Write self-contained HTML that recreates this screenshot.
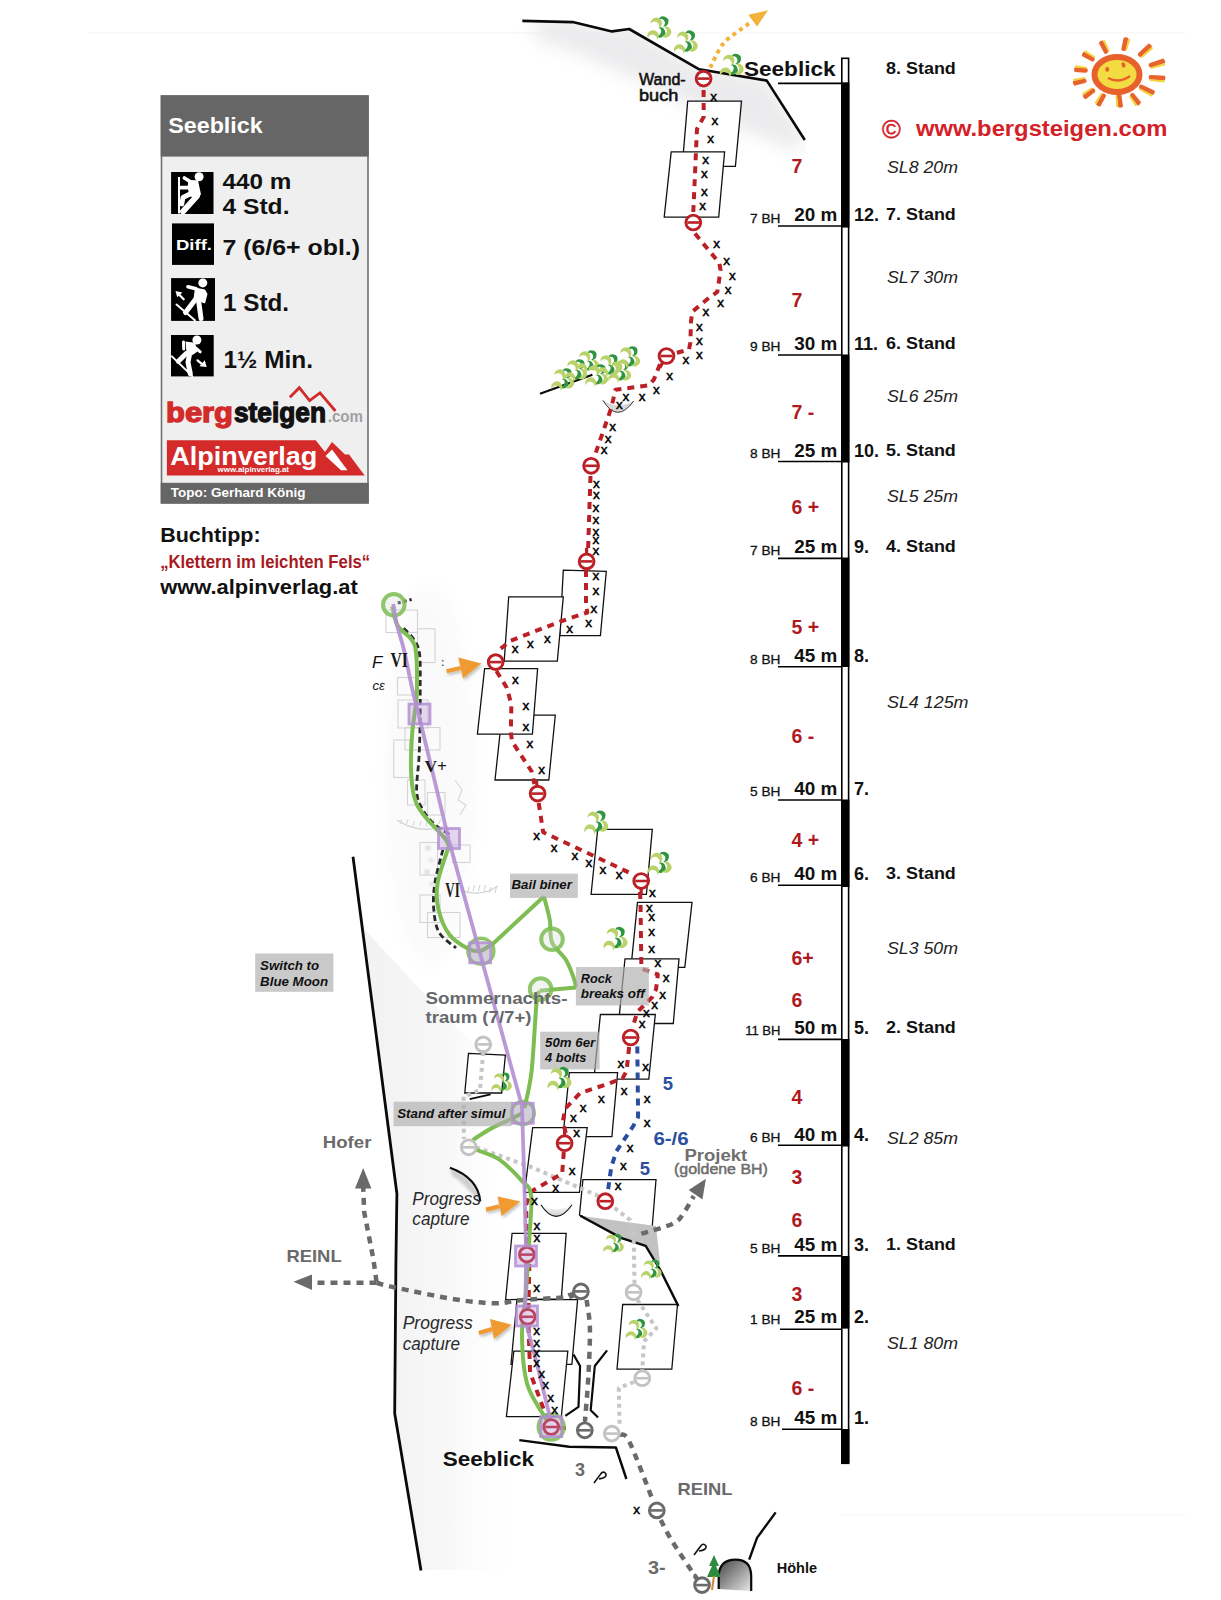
<!DOCTYPE html>
<html><head><meta charset="utf-8"><style>
html,body{margin:0;padding:0;background:#fff;width:1221px;height:1600px;overflow:hidden}
svg{display:block}
text{font-family:"Liberation Sans",sans-serif}
.bh{font-size:13px;fill:#111;stroke:#111;stroke-width:0.3}
.mt{font-size:18px;font-weight:bold;fill:#111}
.st{font-size:17px;font-weight:bold;fill:#111}
.sb{font-size:20.5px;font-weight:bold;fill:#111}
.gr{font-size:19.5px;font-weight:bold;fill:#b0191f}
.sl{font-size:16px;font-style:italic;fill:#222}
.xm{font-size:13.5px;fill:#000;stroke:#000;stroke-width:0.45}
.lab{font-size:13px;font-weight:bold;font-style:italic;fill:#111}
</style></head><body>
<svg width="1221" height="1600" viewBox="0 0 1221 1600">
<rect x="161.5" y="96" width="206.5" height="407" fill="#efefef" stroke="#707070" stroke-width="1.6"/>
<rect x="160.7" y="95.4" width="208" height="61.2" fill="#666666"/>
<text x="168.3" y="133" font-size="22.3" font-weight="bold" fill="#fff" textLength="94.3" lengthAdjust="spacingAndGlyphs">Seeblick</text>
<rect x="171.1" y="172" width="42.4" height="42.0" fill="#000"/>
<rect x="172" y="223.4" width="42.0" height="41.5" fill="#000"/>
<rect x="171.1" y="278.1" width="43.9" height="42.8" fill="#000"/>
<rect x="171" y="335" width="42.7" height="41.4" fill="#000"/>
<g><rect x="178" y="177" width="2" height="36.5" fill="#fff"/><circle cx="199.1" cy="176.8" r="4.5" fill="#fff"/><line x1="184.4" y1="178" x2="191" y2="182" stroke="#fff" stroke-linecap="round" stroke-linejoin="round" fill="none" stroke-width="3.6"/><line x1="180.8" y1="187.7" x2="191" y2="187.7" stroke="#fff" stroke-linecap="round" stroke-linejoin="round" fill="none" stroke-width="3.8"/><polygon points="188.5,180 198,180.2 201,194.5 196.5,199 189.5,196 187.5,187" fill="#fff"/><polyline points="192,193 183,197.5 181.8,204" stroke="#fff" stroke-linecap="round" stroke-linejoin="round" fill="none" stroke-width="4.8"/><line x1="197" y1="196" x2="183" y2="211.5" stroke="#fff" stroke-linecap="round" stroke-linejoin="round" fill="none" stroke-width="5.8"/></g>
<text x="176" y="250" font-size="15.5" font-weight="bold" fill="#fff" textLength="36" lengthAdjust="spacingAndGlyphs">Diff.</text>
<g><circle cx="202.8" cy="282.9" r="4.5" fill="#fff"/><line x1="188" y1="286.8" x2="196" y2="288.8" stroke="#fff" stroke-linecap="round" stroke-linejoin="round" fill="none" stroke-width="3.6"/><polygon points="195,287.5 205,289.5 207.5,294 205,303.5 199.5,301 193.5,299" fill="#fff"/><line x1="205" y1="293.5" x2="203.5" y2="301.5" stroke="#fff" stroke-linecap="round" stroke-linejoin="round" fill="none" stroke-width="3"/><line x1="195" y1="299.9" x2="185.5" y2="312.5" stroke="#fff" stroke-linecap="round" stroke-linejoin="round" fill="none" stroke-width="5"/><line x1="198.5" y1="299.9" x2="201" y2="318.5" stroke="#fff" stroke-linecap="round" stroke-linejoin="round" fill="none" stroke-width="5"/><line x1="176.5" y1="304.5" x2="194.9" y2="320.3" stroke="#fff" stroke-linecap="round" stroke-linejoin="round" fill="none" stroke-width="2"/><line x1="183.7" y1="299.3" x2="179" y2="294.5" stroke="#fff" stroke-linecap="round" stroke-linejoin="round" fill="none" stroke-width="2.2"/><polygon points="175.5,291.1 177.2,297.3 182.4,292.4" fill="#fff"/></g>
<g><circle cx="196.9" cy="340" r="4.5" fill="#fff"/><polygon points="185.5,341.5 195,342.8 197.5,351.5 192.5,355 186.5,353" fill="#fff"/><line x1="183.5" y1="342" x2="183.7" y2="349" stroke="#fff" stroke-linecap="round" stroke-linejoin="round" fill="none" stroke-width="3"/><line x1="195.6" y1="347.8" x2="200.2" y2="351.8" stroke="#fff" stroke-linecap="round" stroke-linejoin="round" fill="none" stroke-width="3"/><line x1="186" y1="353.7" x2="178.3" y2="361.3" stroke="#fff" stroke-linecap="round" stroke-linejoin="round" fill="none" stroke-width="5"/><polyline points="189.5,354.4 188,362.3 190.3,373.8" stroke="#fff" stroke-linecap="round" stroke-linejoin="round" fill="none" stroke-width="5"/><line x1="171.9" y1="356.4" x2="192.3" y2="376.1" stroke="#fff" stroke-linecap="round" stroke-linejoin="round" fill="none" stroke-width="2"/><line x1="197.5" y1="360.3" x2="202.1" y2="364.2" stroke="#fff" stroke-linecap="round" stroke-linejoin="round" fill="none" stroke-width="2.2"/><polygon points="206.7,366.9 199.5,366.2 204.7,360.3" fill="#fff"/></g>
<text x="222.5" y="188.6" font-size="22.3" font-weight="bold" fill="#111" textLength="68.8" lengthAdjust="spacingAndGlyphs">440 m</text>
<text x="222.5" y="213.5" font-size="22.3" font-weight="bold" fill="#111" textLength="67" lengthAdjust="spacingAndGlyphs">4 Std.</text>
<text x="222.5" y="254.5" font-size="22.5" font-weight="bold" fill="#111" textLength="137.5" lengthAdjust="spacingAndGlyphs">7 (6/6+ obl.)</text>
<text x="223" y="311" font-size="23" font-weight="bold" fill="#111" textLength="66" lengthAdjust="spacingAndGlyphs">1 Std.</text>
<text x="223.5" y="368" font-size="23" font-weight="bold" fill="#111" textLength="89.5" lengthAdjust="spacingAndGlyphs">1½ Min.</text>
<text x="166" y="422.1" font-size="28" font-weight="bold" fill="#d32a2a" stroke="#d32a2a" stroke-width="1.3" textLength="67" lengthAdjust="spacingAndGlyphs">berg</text>
<text x="234" y="422.1" font-size="28" font-weight="bold" fill="#111" stroke="#111" stroke-width="1.3" textLength="92" lengthAdjust="spacingAndGlyphs">steigen</text>
<text x="327.7" y="422.1" font-size="16.5" font-weight="bold" fill="#a0a0a0" textLength="35.3" lengthAdjust="spacingAndGlyphs">.com</text>
<polyline points="289.9,397.2 299.3,387.7 309.6,400.6 320,392.9 335.4,411" fill="none" stroke="#d32a2a" stroke-width="2.8"/>
<path d="M166.9 440.2 L315.7 440.2 L325 452 L332 442 L345 454.5 L349 454.5 L364.7 475.5 L166.9 475.5 Z" fill="#d42a2a"/>
<path d="M325.5 456 L332 449.5 L347.5 470.3 L341 470.3 Z" fill="#fff"/>
<text x="170.3" y="465.1" font-size="25" font-weight="bold" fill="#fff" textLength="147" lengthAdjust="spacingAndGlyphs">Alpinverlag</text>
<text x="217.6" y="472.3" font-size="8" font-weight="bold" fill="#fff" textLength="71.4" lengthAdjust="spacingAndGlyphs">www.alpinverlag.at</text>
<rect x="160.7" y="482.8" width="208" height="20.6" fill="#666666"/>
<text x="170.7" y="497" font-size="13.6" font-weight="bold" fill="#fff" textLength="134.7" lengthAdjust="spacingAndGlyphs">Topo: Gerhard König</text>
<text x="160.2" y="541.6" font-size="21" font-weight="bold" fill="#111" textLength="100.4" lengthAdjust="spacingAndGlyphs">Buchtipp:</text>
<text x="160.2" y="567.8" font-size="17.5" font-weight="bold" fill="#a8191f" textLength="210" lengthAdjust="spacingAndGlyphs">„Klettern im leichten Fels“</text>
<text x="160.2" y="594.4" font-size="20" font-weight="bold" fill="#111" textLength="197.6" lengthAdjust="spacingAndGlyphs">www.alpinverlag.at</text>
<text x="882" y="137.5" font-size="25.5" fill="#d42027" stroke="#d42027" stroke-width="0.5">©</text>
<text x="915.9" y="136" font-size="21.5" font-weight="bold" fill="#d42027" textLength="251.5" lengthAdjust="spacingAndGlyphs">www.bergsteigen.com</text>
<defs>
<filter id="blur8" x="-50%" y="-50%" width="200%" height="200%"><feGaussianBlur stdDeviation="9"/></filter>
<filter id="blur4" x="-50%" y="-50%" width="200%" height="200%"><feGaussianBlur stdDeviation="4"/></filter>
<filter id="shadow" x="-50%" y="-50%" width="200%" height="200%"><feDropShadow dx="1.5" dy="2" stdDeviation="1.5" flood-color="#000" flood-opacity="0.25"/></filter>
<filter id="blur2" x="-50%" y="-50%" width="200%" height="200%"><feGaussianBlur stdDeviation="1.5"/></filter>
<linearGradient id="wallg" x1="0" y1="0" x2="1" y2="0"><stop offset="0" stop-color="#f1f1f3"/><stop offset="0.55" stop-color="#f7f7f8"/><stop offset="1" stop-color="#ffffff" stop-opacity="0"/></linearGradient>
<linearGradient id="caveg" x1="0" y1="0" x2="1" y2="1"><stop offset="0" stop-color="#444"/><stop offset="1" stop-color="#e8e8e8"/></linearGradient>
<linearGradient id="ovg" x1="0" y1="0" x2="0" y2="1"><stop offset="0" stop-color="#ffffff"/><stop offset="1" stop-color="#cfcfcf"/></linearGradient>
<clipPath id="belowridge"><polygon points="522.3,20.9 572.7,22.1 612,31.4 629.2,29 699.2,69.3 766.8,80.6 804.8,140 820,200 500,200 500,20"/></clipPath>
</defs>
<line x1="88" y1="33" x2="1185" y2="33" stroke="#f3f3f3" stroke-width="1"/>
<line x1="840" y1="1515" x2="1185" y2="1515" stroke="#f5f5f5" stroke-width="1"/>
<g clip-path="url(#belowridge)"><path d="M535 18 L573 18 L612 27 L629 25 L699 65 L767 77 L808 140 L795 150 L730 125 L650 85 L570 50 L535 40 Z" fill="#ebebed" filter="url(#blur8)"/></g>
<polygon points="353,857 365,930 430,1000 490,1060 520,1570 421,1570 394.7,1413 396,1263 397,1194 390,1140" fill="url(#wallg)"/>
<ellipse cx="430" cy="775" rx="45" ry="190" fill="#fafafa" filter="url(#blur8)"/>
<rect x="386" y="610" width="31.5" height="22.5" fill="none" stroke="#d3d3d3" stroke-width="1.1"/>
<rect x="417.5" y="628.75" width="17.5" height="33.8" fill="none" stroke="#d3d3d3" stroke-width="1.1"/>
<rect x="397.5" y="677.5" width="20.0" height="17.5" fill="none" stroke="#d3d3d3" stroke-width="1.1"/>
<rect x="393.75" y="740" width="16.2" height="37.5" fill="none" stroke="#d3d3d3" stroke-width="1.1"/>
<rect x="405" y="727.5" width="35.0" height="22.5" fill="none" stroke="#d3d3d3" stroke-width="1.1"/>
<rect x="407.5" y="780" width="17.5" height="25.0" fill="none" stroke="#d3d3d3" stroke-width="1.1"/>
<rect x="427.5" y="792.5" width="17.5" height="22.5" fill="none" stroke="#d3d3d3" stroke-width="1.1"/>
<rect x="420" y="842.5" width="17.5" height="32.5" fill="none" stroke="#d3d3d3" stroke-width="1.1"/>
<rect x="420" y="895" width="20.0" height="27.5" fill="none" stroke="#d3d3d3" stroke-width="1.1"/>
<rect x="427.5" y="912.5" width="32.5" height="25.0" fill="none" stroke="#d3d3d3" stroke-width="1.1"/>
<rect x="452.5" y="845" width="17.5" height="17.5" fill="none" stroke="#d3d3d3" stroke-width="1.1"/>
<rect x="398" y="700" width="30.0" height="28.0" fill="none" stroke="#d3d3d3" stroke-width="1.1"/>
<path d="M397 820 Q420 835 445 826" fill="none" stroke="#d0d0d0" stroke-width="1.2"/>
<line x1="400.0" y1="824" x2="401.5" y2="819" stroke="#d4d4d4" stroke-width="1"/>
<line x1="406.5" y1="824" x2="408.0" y2="819" stroke="#d4d4d4" stroke-width="1"/>
<line x1="413.0" y1="826" x2="414.5" y2="821" stroke="#d4d4d4" stroke-width="1"/>
<line x1="419.5" y1="826" x2="421.0" y2="821" stroke="#d4d4d4" stroke-width="1"/>
<line x1="426.0" y1="826" x2="427.5" y2="821" stroke="#d4d4d4" stroke-width="1"/>
<line x1="432.5" y1="824" x2="434.0" y2="819" stroke="#d4d4d4" stroke-width="1"/>
<line x1="439.0" y1="824" x2="440.5" y2="819" stroke="#d4d4d4" stroke-width="1"/>
<line x1="462.0" y1="893" x2="463.5" y2="887" stroke="#d0d0d0" stroke-width="1"/>
<line x1="467.5" y1="893" x2="469.0" y2="887" stroke="#d0d0d0" stroke-width="1"/>
<line x1="473.0" y1="891" x2="474.5" y2="885" stroke="#d0d0d0" stroke-width="1"/>
<line x1="478.5" y1="891" x2="480.0" y2="885" stroke="#d0d0d0" stroke-width="1"/>
<line x1="484.0" y1="891" x2="485.5" y2="885" stroke="#d0d0d0" stroke-width="1"/>
<line x1="489.5" y1="893" x2="491.0" y2="887" stroke="#d0d0d0" stroke-width="1"/>
<line x1="495.0" y1="893" x2="496.5" y2="887" stroke="#d0d0d0" stroke-width="1"/>
<path d="M460 890 Q480 898 498 886" fill="none" stroke="#d0d0d0" stroke-width="1.2"/>
<path d="M455 780 L462 790 L458 800 L466 805 L460 815" fill="none" stroke="#d8d8d8" stroke-width="1.2"/>
<g fill="#d6d6d6" filter="url(#blur2)"><circle cx="428" cy="848" r="2.5"/><circle cx="431" cy="860" r="2"/><circle cx="427" cy="872" r="2.5"/><circle cx="432" cy="884" r="2"/></g>
<path d="M522.3 20.9 L572.7 22.1 L612 31.4 L629.2 29 L699.2 69.3 L766.8 80.6 L804.8 140" fill="none" stroke="#0a0a0a" stroke-width="2.6" stroke-linecap="butt" stroke-linejoin="round"/>
<path d="M353 856.7 L389.9 1140 L396.9 1193.7 L395.9 1263.3 L394.7 1413.4 L421 1570.5" fill="none" stroke="#0a0a0a" stroke-width="2.8" stroke-linecap="butt" stroke-linejoin="round"/>
<path d="M519.3 1440.1 L569.2 1446.7 L615.9 1447.5 L626.4 1479" fill="none" stroke="#0a0a0a" stroke-width="2.4" stroke-linecap="butt" stroke-linejoin="round"/>
<path d="M749.2 1559.6 L757 1537.9 L775.7 1512.4" fill="none" stroke="#0a0a0a" stroke-width="2.4" stroke-linecap="butt" stroke-linejoin="round"/>
<path d="M540 393.7 L592.4 374.7" fill="none" stroke="#0a0a0a" stroke-width="2.2" stroke-linecap="butt" stroke-linejoin="round"/>
<path d="M469.7 1099.2 L490.6 1094.3" fill="none" stroke="#0a0a0a" stroke-width="1.8" stroke-linecap="butt" stroke-linejoin="round"/>
<path d="M573.5 1354.5 L580.1 1366 L578.5 1406.9 L565.3 1415.9" fill="none" stroke="#0a0a0a" stroke-width="2.2" stroke-linecap="butt" stroke-linejoin="round"/>
<path d="M607.1 1350.4 L594.8 1366 L590.7 1410.2 L598.1 1417.5" fill="none" stroke="#0a0a0a" stroke-width="2.2" stroke-linecap="butt" stroke-linejoin="round"/>
<path d="M450 1168 Q478 1178 480.3 1201 L470 1192 Q460 1180 452 1176 Z" fill="#cfcfcf" filter="url(#blur2)"/>
<path d="M450 1167.8 Q478 1178 480.3 1201.4" fill="none" stroke="#0a0a0a" stroke-width="2"/>
<polygon points="687.7,101.1 741.5,101.1 735.4,166.4 682.2,166.4" fill="#fff" stroke="#111" stroke-width="1.3" stroke-linejoin="miter"/>
<polygon points="671.2,151.9 724.6,151.9 718.7,217.2 664.2,217.2" fill="#fff" stroke="#111" stroke-width="1.3" stroke-linejoin="miter"/>
<polygon points="563.3,570.2 606.3,571.3 600.4,635.7 559.8,635.7" fill="#fff" stroke="#111" stroke-width="1.3" stroke-linejoin="miter"/>
<polygon points="508.7,596.8 563.3,596.8 557.3,661.2 504.2,661.2" fill="#fff" stroke="#111" stroke-width="1.3" stroke-linejoin="miter"/>
<polygon points="502,715.2 555.3,715.2 548.8,780 495,780" fill="#fff" stroke="#111" stroke-width="1.3" stroke-linejoin="miter"/>
<polygon points="484.6,668.7 537.6,668.7 532.4,734.2 477.4,734.2" fill="#fff" stroke="#111" stroke-width="1.3" stroke-linejoin="miter"/>
<polygon points="597.7,829.4 652.3,829.4 646.4,894.3 591.1,894.3" fill="#fff" stroke="#111" stroke-width="1.3" stroke-linejoin="miter"/>
<polygon points="637.5,902.4 692,902.4 684.8,967.4 631,967.4" fill="#fff" stroke="#111" stroke-width="1.3" stroke-linejoin="miter"/>
<polygon points="625,958.8 679,958.8 673.3,1023.5 618.5,1023.5" fill="#fff" stroke="#111" stroke-width="1.3" stroke-linejoin="miter"/>
<polygon points="600.4,1014.5 655.3,1014.5 648.8,1079.2 593.9,1079.2" fill="#fff" stroke="#111" stroke-width="1.3" stroke-linejoin="miter"/>
<polygon points="569.3,1072.7 617.6,1072.7 611.9,1136.6 563,1136.6" fill="#fff" stroke="#111" stroke-width="1.3" stroke-linejoin="miter"/>
<polygon points="582.9,1179.7 656,1179.7 650.8,1244.2 579.5,1215" fill="#fff" stroke="#111" stroke-width="1.3" stroke-linejoin="miter"/>
<polygon points="532.7,1127.7 587.2,1127.7 579.4,1192.4 524.5,1192.4" fill="#fff" stroke="#111" stroke-width="1.3" stroke-linejoin="miter"/>
<polygon points="468.5,1053.3 505.4,1055 501.7,1093 464.8,1093" fill="#fff" stroke="#111" stroke-width="1.3" stroke-linejoin="miter"/>
<polygon points="512.1,1233.3 566.2,1233.3 561.3,1298.8 505.6,1299.6" fill="#fff" stroke="#111" stroke-width="1.3" stroke-linejoin="miter"/>
<polygon points="517,1299.6 577.6,1299.6 571.9,1364.3 511,1364.3" fill="#fff" stroke="#111" stroke-width="1.3" stroke-linejoin="miter"/>
<polygon points="513.8,1351.2 567.8,1351.2 561.3,1416.7 506.4,1416.7" fill="#fff" stroke="#111" stroke-width="1.3" stroke-linejoin="miter"/>
<polygon points="622.7,1304.5 677.5,1304.5 671.8,1369.2 617,1369.2" fill="#fff" stroke="#111" stroke-width="1.3" stroke-linejoin="miter"/>
<polygon points="580.3,1215.8 656,1226 660.3,1266 645.7,1245.9 621.6,1238.1" fill="#c2c2c2"/>
<path d="M580.3 1215.8 L621.6 1238.1 L645.7 1245.9 L660.3 1270 L678.4 1306.1" fill="none" stroke="#0a0a0a" stroke-width="2.4" stroke-linecap="butt" stroke-linejoin="round"/>
<path d="M540.9 1204.7 Q556 1228 572 1204.7 Q556 1214 540.9 1204.7 Z" fill="url(#ovg)"/>
<path d="M540.9 1204.7 Q556 1228 572 1204.7" fill="none" stroke="#111" stroke-width="1.1"/>
<path d="M602.9 400.3 Q617 424 633.7 401 Q617 410 602.9 400.3 Z" fill="#d8d8d8"/>
<path d="M602.9 400.3 Q617 424 633.7 401" fill="none" stroke="#333" stroke-width="1"/>
<path d="M718.7 1589 L718.7 1575 Q720 1559.6 735.5 1559.6 Q751 1559.6 751.2 1576 L751.2 1591 Z" fill="url(#caveg)"/>
<path d="M718.7 1589 L718.7 1575 Q720 1559.6 735.5 1559.6 Q751 1559.6 751.2 1576 L751.2 1591" fill="none" stroke="#0a0a0a" stroke-width="2.2"/>
<path d="M714 1555 L719 1566 L716 1566 L721 1577 L707 1577 L712 1566 L709 1566 Z" fill="#2e8a3e"/>
<line x1="714" y1="1576" x2="712" y2="1590" stroke="#d08a30" stroke-width="2"/>
<path d="M483.2 1052 L480 1090 L463.6 1096.7 L463.9 1139" fill="none" stroke="#c6c6c6" stroke-width="4" stroke-dasharray="4 4" stroke-linecap="butt" stroke-linejoin="round"/>
<path d="M476 1147.3 L531 1167 L599.8 1196.5 L630.2 1220.1 L633.6 1230.4 L634.5 1284" fill="none" stroke="#c6c6c6" stroke-width="4" stroke-dasharray="4 4" stroke-linecap="butt" stroke-linejoin="round"/>
<path d="M637.4 1300 L656.3 1328.3 L644 1341.4 L642.3 1370" fill="none" stroke="#c6c6c6" stroke-width="4" stroke-dasharray="4 4" stroke-linecap="butt" stroke-linejoin="round"/>
<path d="M634 1382 L618.8 1388.1 L619.6 1425" fill="none" stroke="#c6c6c6" stroke-width="4" stroke-dasharray="4 4" stroke-linecap="butt" stroke-linejoin="round"/>
<path d="M376.5 1281.8 L373.4 1259.2 L364.2 1212.1 L363.2 1187" fill="none" stroke="#6a6a6a" stroke-width="4.5" stroke-dasharray="7 6" stroke-linecap="butt" stroke-linejoin="round"/>
<polygon points="363.2,1168.1 355,1188.6 371.4,1188.6" fill="#6a6a6a"/>
<path d="M376.5 1282.8 L312 1282.8" fill="none" stroke="#6a6a6a" stroke-width="4.5" stroke-dasharray="7 6" stroke-linecap="butt" stroke-linejoin="round"/>
<polygon points="293.5,1281.8 312,1274.6 312,1290" fill="#6a6a6a"/>
<path d="M376.5 1282.8 C379.9 1283.7 383.9 1285.2 396.9 1287.9 C409.9 1290.6 437.9 1296.6 454.3 1299.2 C470.7 1301.8 484.2 1303.1 495.2 1303.3 C506.1 1303.5 508.2 1301.2 520 1300.2 C531.8 1299.2 557.2 1298.2 566.2 1297.2 C575.2 1296.2 572.7 1294.5 574 1294" fill="none" stroke="#6a6a6a" stroke-width="4.5" stroke-dasharray="7 6" stroke-linecap="butt" stroke-linejoin="round"/>
<path d="M586.6 1300 C587.1 1304.7 589.6 1315.4 589.9 1328.3 C590.2 1341.2 589.1 1362 588.3 1377.4 C587.5 1392.9 585.5 1413.7 585 1421" fill="none" stroke="#6a6a6a" stroke-width="4.5" stroke-dasharray="7 6" stroke-linecap="butt" stroke-linejoin="round"/>
<path d="M620 1434.7 C621.5 1435.8 623.8 1430.6 629.3 1441.6 C634.8 1452.6 649 1490.8 652.9 1500.6" fill="none" stroke="#6a6a6a" stroke-width="4.5" stroke-dasharray="7 6" stroke-linecap="butt" stroke-linejoin="round"/>
<path d="M660.8 1520 C662.8 1523.7 666.5 1532 672.6 1541.9 C678.7 1551.8 693 1573 697.1 1579.2" fill="none" stroke="#6a6a6a" stroke-width="4.5" stroke-dasharray="7 6" stroke-linecap="butt" stroke-linejoin="round"/>
<path d="M641.4 1233.8 C646.7 1232.1 666.2 1226.9 673.2 1223.5 C680.2 1220.1 680.1 1217.8 683.5 1213.2 C686.9 1208.6 692.1 1198.9 693.8 1196" fill="none" stroke="#6a6a6a" stroke-width="4.5" stroke-dasharray="7 6" stroke-linecap="butt" stroke-linejoin="round"/>
<polygon points="705.9,1178.8 688.7,1190 702.4,1199.4" fill="#6a6a6a"/>
<path d="M397.8 603 L411.6 599.5" fill="none" stroke="#222" stroke-width="3" stroke-dasharray="3 3" stroke-linecap="butt" stroke-linejoin="round"/>
<path d="M403.6 628.2 C405.3 630.1 411.2 635.2 413.9 639.6 C416.6 644 418.6 646.1 419.6 654.5 C420.7 662.9 420.1 678.6 420.2 690 C420.3 701.4 420.3 711.8 420.1 723 C419.9 734.2 419.6 745.8 419 757.3 C418.4 768.8 416.1 783.1 416.7 791.7 C417.3 800.3 419.5 803.6 422.4 809 C425.3 814.4 429.2 819.5 434 823.9 C438.8 828.3 448.2 833.4 451.1 835.3" fill="none" stroke="#2a2a2a" stroke-width="2.8" stroke-dasharray="6 3.5" stroke-linecap="butt" stroke-linejoin="round"/>
<path d="M442.9 849.7 C441.6 855.2 436.5 872.6 435 882.4 C433.5 892.2 433 900.3 433.7 908.6 C434.4 916.9 435.3 925.6 439 932.2 C442.7 938.8 453.2 945.4 456 948" fill="none" stroke="#2a2a2a" stroke-width="2.8" stroke-dasharray="6 3.5" stroke-linecap="butt" stroke-linejoin="round"/>
<path d="M703.6 90 L703.7 116.9 L697 129 L696.3 143.9 L693.3 212" fill="none" stroke="#bb2027" stroke-width="4" stroke-dasharray="7 6" stroke-linecap="butt" stroke-linejoin="round"/>
<path d="M695 233.6 L719.3 263 L720.6 270.3 L717.3 291.9 L710 297 L692.4 311.6 L691 321.4 L690.4 342.4 L689 349.6 L676 353" fill="none" stroke="#bb2027" stroke-width="4" stroke-dasharray="7 6" stroke-linecap="butt" stroke-linejoin="round"/>
<path d="M660 364.2 L654 379.3 L649.4 385.2 L615.4 389.8 L611.4 407.5 L595 455" fill="none" stroke="#bb2027" stroke-width="4" stroke-dasharray="7 6" stroke-linecap="butt" stroke-linejoin="round"/>
<path d="M590.5 476 L589.8 497 L588 552" fill="none" stroke="#bb2027" stroke-width="4" stroke-dasharray="7 6" stroke-linecap="butt" stroke-linejoin="round"/>
<path d="M586 570 L586 605.3 L587.3 612.5 L561.7 621 L510.6 640.7 L500 649.2 L497.7 653.6" fill="none" stroke="#bb2027" stroke-width="4" stroke-dasharray="7 6" stroke-linecap="butt" stroke-linejoin="round"/>
<path d="M496.4 671 L506.8 687.7 L511.4 704.7 L510.8 732.2 L512 741.4 L531.7 771.5 L534.4 784" fill="none" stroke="#bb2027" stroke-width="4" stroke-dasharray="7 6" stroke-linecap="butt" stroke-linejoin="round"/>
<path d="M538.7 803 L543.2 832.3 L597 857.4 L630 873" fill="none" stroke="#bb2027" stroke-width="4" stroke-dasharray="7 6" stroke-linecap="butt" stroke-linejoin="round"/>
<path d="M640 892 L640.5 902.4 L641.2 955.4 L641.4 968.7 L657.8 974.4 L656.1 989.1 L652 997.3 L637.3 1012 L632.4 1028" fill="none" stroke="#bb2027" stroke-width="4" stroke-dasharray="7 6" stroke-linecap="butt" stroke-linejoin="round"/>
<path d="M629.1 1047 L626.6 1071 L622.5 1078.4 L607 1084.1 L580 1093.2 L565.2 1108.7 L562.8 1121.8 L566 1134" fill="none" stroke="#bb2027" stroke-width="4" stroke-dasharray="7 6" stroke-linecap="butt" stroke-linejoin="round"/>
<path d="M563.8 1152 L562.2 1173.5 L531 1191.6 L526.1 1204.7 L527 1245" fill="none" stroke="#bb2027" stroke-width="4" stroke-dasharray="7 6" stroke-linecap="butt" stroke-linejoin="round"/>
<path d="M529.3 1264 L528.5 1308" fill="none" stroke="#bb2027" stroke-width="4" stroke-dasharray="7 6" stroke-linecap="butt" stroke-linejoin="round"/>
<path d="M528.5 1326 L530.1 1372.5 L544 1410.2 L550.6 1422" fill="none" stroke="#bb2027" stroke-width="4" stroke-dasharray="7 6" stroke-linecap="butt" stroke-linejoin="round"/>
<path d="M560 1428 L566 1428" fill="none" stroke="#bb2027" stroke-width="4" stroke-linecap="butt" stroke-linejoin="round"/>
<path d="M637.3 1046.5 L638.1 1116.9 L633.6 1125.5 L616.4 1151.3 L611.3 1166.8 L607.8 1192" fill="none" stroke="#2c4ea0" stroke-width="4" stroke-dasharray="7 6" stroke-linecap="butt" stroke-linejoin="round"/>
<path d="M392 606.4 C393 609.6 394.5 620.4 397.8 625.9 C401.1 631.4 408.5 634.8 411.6 639.6 C414.7 644.4 415.3 645.3 416.2 654.5 C417.1 663.7 417.1 684.6 416.8 694.7 C416.5 704.8 415.2 708.4 414.4 715 C413.6 721.6 412.7 725.4 412.1 734.4 C411.5 743.4 410.6 758.3 411 768.8 C411.4 779.3 412.3 789.9 414.4 797.5 C416.5 805.1 418.6 808 423.6 814.7 C428.6 821.4 440 832.4 444.2 837.6 C448.4 842.8 448.2 844.6 449 846" fill="none" stroke="#7dbd52" stroke-width="4" stroke-linecap="butt" stroke-linejoin="round"/>
<path d="M449 846 C447.1 852.1 439.5 872 437.7 882.4 C435.9 892.8 436.3 899.9 438.3 908.6 C440.3 917.3 444.4 928 449.5 934.8 C454.6 941.6 463.9 946.6 469.1 949.3 C474.3 952 478.9 950.9 480.9 951.2" fill="none" stroke="#7dbd52" stroke-width="4" stroke-linecap="butt" stroke-linejoin="round"/>
<path d="M480.9 951.2 L492.7 944 L543.9 896.5" fill="none" stroke="#7dbd52" stroke-width="4" stroke-linecap="butt" stroke-linejoin="round"/>
<path d="M543.9 896.5 C544.9 900.4 548.4 912.4 549.8 920 C551.1 927.6 549.3 935.5 552 942.2 C554.7 948.9 562.3 953.8 566 960 C569.7 966.2 572.6 974.7 574.2 979.3 C575.9 983.9 575.6 986.1 575.9 987.5" fill="none" stroke="#7dbd52" stroke-width="4" stroke-linecap="butt" stroke-linejoin="round"/>
<path d="M575.9 987.5 L539.8 990.8" fill="none" stroke="#7dbd52" stroke-width="4" stroke-linecap="butt" stroke-linejoin="round"/>
<path d="M539.8 990.8 C539.3 992.7 538 988.8 536.6 1002.2 C535.2 1015.6 533.6 1053.4 531.6 1071 C529.6 1088.6 525.7 1101.8 524.5 1108" fill="none" stroke="#7dbd52" stroke-width="4" stroke-linecap="butt" stroke-linejoin="round"/>
<path d="M522.8 1113 C520.9 1114 517.4 1115.7 511.4 1118.7 C505.4 1121.7 493.6 1126.5 486.8 1131 C480 1135.5 468.5 1141.1 470.4 1145.7 C472.3 1150.3 489.8 1153.1 498.3 1158.8 C506.8 1164.5 515.8 1174.1 521.2 1180.1 C526.7 1186.1 529.6 1185.2 531 1194.8 C532.4 1204.3 530.2 1221.5 529.4 1237.4 C528.6 1253.3 527.3 1273.5 526.1 1290 C524.9 1306.5 521.7 1320.6 522 1336.5 C522.3 1352.4 523.2 1371.1 527.7 1385.6 C532.2 1400.1 545.5 1417 549 1423.3" fill="none" stroke="#7dbd52" stroke-width="4" stroke-linecap="butt" stroke-linejoin="round"/>
<circle cx="393.8" cy="604.7" r="10.8" fill="#dcdcdc" fill-opacity="0.35" stroke="#7dbd52" stroke-opacity="0.85" stroke-width="4"/>
<circle cx="552" cy="939.2" r="10.8" fill="#dcdcdc" fill-opacity="0.35" stroke="#7dbd52" stroke-opacity="0.85" stroke-width="4"/>
<circle cx="540.6" cy="989.1" r="10.8" fill="#dcdcdc" fill-opacity="0.35" stroke="#7dbd52" stroke-opacity="0.85" stroke-width="4"/>
<circle cx="480.9" cy="951.2" r="13" fill="#7dbd52" fill-opacity="0.22" stroke="#7dbd52" stroke-opacity="0.85" stroke-width="3.4"/>
<circle cx="522.8" cy="1113" r="11.5" fill="#7dbd52" fill-opacity="0.22" stroke="#7dbd52" stroke-opacity="0.85" stroke-width="3.4"/>
<circle cx="551.2" cy="1427" r="13" fill="#7dbd52" fill-opacity="0.22" stroke="#7dbd52" stroke-opacity="0.85" stroke-width="3.4"/>
<path d="M393.3 604 C393.9 607.5 395.2 617.3 397 625 C398.8 632.7 401.4 639.2 404 650 C406.6 660.8 409.8 678.3 412.5 690 C415.2 701.7 413.9 695 420 720 C426.1 745 444 820 448.8 840" fill="none" stroke="#b28fd2" stroke-width="3.8" stroke-linecap="butt" stroke-linejoin="round" stroke-opacity="0.9"/>
<path d="M448.8 840 L522 1106 L524.5 1188.3 L526.1 1253.8 L525.2 1320 L537.5 1366 L552.2 1426.6" fill="none" stroke="#b28fd2" stroke-opacity="0.9" stroke-width="3.8" stroke-linejoin="round"/>
<g><circle cx="703.6" cy="78.6" r="7.4" fill="#fff" fill-opacity="0.9" stroke="#bb2027" stroke-width="2.9"/><line x1="697.7" y1="78.6" x2="709.5" y2="78.6" stroke="#bb2027" stroke-width="2.6"/></g>
<g><circle cx="693.3" cy="222.5" r="7.4" fill="#fff" fill-opacity="0.9" stroke="#bb2027" stroke-width="2.9"/><line x1="687.4" y1="222.5" x2="699.2" y2="222.5" stroke="#bb2027" stroke-width="2.6"/></g>
<g><line x1="662.8" y1="362.4" x2="659.8" y2="367.6" stroke="#bb2027" stroke-width="3.2"/><circle cx="666.5" cy="356" r="7.4" fill="#fff" fill-opacity="0.9" stroke="#bb2027" stroke-width="2.9"/><line x1="660.6" y1="356" x2="672.4" y2="356" stroke="#bb2027" stroke-width="2.6"/></g>
<g><circle cx="591.1" cy="465.8" r="7.4" fill="#fff" fill-opacity="0.9" stroke="#bb2027" stroke-width="2.9"/><line x1="585.2" y1="465.8" x2="597" y2="465.8" stroke="#bb2027" stroke-width="2.6"/></g>
<g><line x1="586.6" y1="554" x2="586.6" y2="548" stroke="#bb2027" stroke-width="3.2"/><circle cx="586.6" cy="561.4" r="7.4" fill="#fff" fill-opacity="0.9" stroke="#bb2027" stroke-width="2.9"/><line x1="580.7" y1="561.4" x2="592.5" y2="561.4" stroke="#bb2027" stroke-width="2.6"/></g>
<g><circle cx="495.7" cy="662.1" r="7.4" fill="#fff" fill-opacity="0.9" stroke="#bb2027" stroke-width="2.9"/><line x1="489.8" y1="662.1" x2="501.6" y2="662.1" stroke="#bb2027" stroke-width="2.6"/></g>
<g><line x1="537" y1="786.2" x2="536.4" y2="780.3" stroke="#bb2027" stroke-width="3.2"/><circle cx="537.6" cy="793.6" r="7.4" fill="#fff" fill-opacity="0.9" stroke="#bb2027" stroke-width="2.9"/><line x1="531.7" y1="793.6" x2="543.5" y2="793.6" stroke="#bb2027" stroke-width="2.6"/></g>
<g><line x1="641.2" y1="888.4" x2="641.2" y2="894.4" stroke="#bb2027" stroke-width="3.2"/><circle cx="641.2" cy="881" r="7.4" fill="#fff" fill-opacity="0.9" stroke="#bb2027" stroke-width="2.9"/><line x1="635.3" y1="881" x2="647.1" y2="881" stroke="#bb2027" stroke-width="2.6"/></g>
<g><circle cx="630.7" cy="1037.5" r="7.4" fill="#fff" fill-opacity="0.9" stroke="#bb2027" stroke-width="2.9"/><line x1="624.8" y1="1037.5" x2="636.6" y2="1037.5" stroke="#bb2027" stroke-width="2.6"/></g>
<g><line x1="564.6" y1="1135.8" x2="564.6" y2="1129.8" stroke="#bb2027" stroke-width="3.2"/><circle cx="564.6" cy="1143.2" r="7.4" fill="#fff" fill-opacity="0.9" stroke="#bb2027" stroke-width="2.9"/><line x1="558.7" y1="1143.2" x2="570.5" y2="1143.2" stroke="#bb2027" stroke-width="2.6"/></g>
<g><circle cx="526.9" cy="1254.6" r="7.4" fill="#fff" fill-opacity="0.9" stroke="#bb2027" stroke-width="2.9"/><line x1="521" y1="1254.6" x2="532.8" y2="1254.6" stroke="#bb2027" stroke-width="2.6"/></g>
<g><circle cx="527.7" cy="1316.8" r="7.4" fill="#fff" fill-opacity="0.9" stroke="#bb2027" stroke-width="2.9"/><line x1="521.8" y1="1316.8" x2="533.6" y2="1316.8" stroke="#bb2027" stroke-width="2.6"/></g>
<g><circle cx="551.2" cy="1427" r="7.4" fill="#fff" fill-opacity="0.9" stroke="#bb2027" stroke-width="2.9"/><line x1="545.3" y1="1427" x2="557.1" y2="1427" stroke="#bb2027" stroke-width="2.6"/></g>
<g><circle cx="605.3" cy="1201.2" r="7.4" fill="#fff" fill-opacity="0.9" stroke="#bb2027" stroke-width="2.9"/><line x1="599.4" y1="1201.2" x2="611.2" y2="1201.2" stroke="#bb2027" stroke-width="2.6"/></g>
<g><circle cx="483.2" cy="1044.4" r="7.4" fill="#fff" fill-opacity="0.9" stroke="#c2c2c2" stroke-width="2.9"/><line x1="477.3" y1="1044.4" x2="489.1" y2="1044.4" stroke="#c2c2c2" stroke-width="2.6"/></g>
<g><circle cx="468.8" cy="1147.3" r="7.4" fill="#fff" fill-opacity="0.9" stroke="#c2c2c2" stroke-width="2.9"/><line x1="462.9" y1="1147.3" x2="474.7" y2="1147.3" stroke="#c2c2c2" stroke-width="2.6"/></g>
<g><circle cx="633.6" cy="1292.3" r="7.4" fill="#fff" fill-opacity="0.9" stroke="#c2c2c2" stroke-width="2.9"/><line x1="627.7" y1="1292.3" x2="639.5" y2="1292.3" stroke="#c2c2c2" stroke-width="2.6"/></g>
<g><circle cx="642.3" cy="1378.2" r="7.4" fill="#fff" fill-opacity="0.9" stroke="#c2c2c2" stroke-width="2.9"/><line x1="636.4" y1="1378.2" x2="648.2" y2="1378.2" stroke="#c2c2c2" stroke-width="2.6"/></g>
<g><circle cx="611.8" cy="1433.6" r="7.4" fill="#fff" fill-opacity="0.9" stroke="#c2c2c2" stroke-width="2.9"/><line x1="605.9" y1="1433.6" x2="617.7" y2="1433.6" stroke="#c2c2c2" stroke-width="2.6"/></g>
<g><line x1="573.8" y1="1293.3" x2="568" y2="1294.9" stroke="#6a6a6a" stroke-width="3.2"/><circle cx="580.9" cy="1291.4" r="7.4" fill="#fff" fill-opacity="0.9" stroke="#6a6a6a" stroke-width="2.9"/><line x1="575" y1="1291.4" x2="586.8" y2="1291.4" stroke="#6a6a6a" stroke-width="2.6"/></g>
<g><line x1="584.8" y1="1422.9" x2="584.8" y2="1416.9" stroke="#6a6a6a" stroke-width="3.2"/><circle cx="584.8" cy="1430.3" r="7.4" fill="#fff" fill-opacity="0.9" stroke="#6a6a6a" stroke-width="2.9"/><line x1="578.9" y1="1430.3" x2="590.7" y2="1430.3" stroke="#6a6a6a" stroke-width="2.6"/></g>
<g><circle cx="656.8" cy="1510.4" r="7.4" fill="#fff" fill-opacity="0.9" stroke="#6a6a6a" stroke-width="2.9"/><line x1="650.9" y1="1510.4" x2="662.7" y2="1510.4" stroke="#6a6a6a" stroke-width="2.6"/></g>
<g><line x1="697.8" y1="1579" x2="694.3" y2="1574.1" stroke="#6a6a6a" stroke-width="3.2"/><circle cx="702" cy="1585.1" r="7.4" fill="#fff" fill-opacity="0.9" stroke="#6a6a6a" stroke-width="2.9"/><line x1="696.1" y1="1585.1" x2="707.9" y2="1585.1" stroke="#6a6a6a" stroke-width="2.6"/></g>
<rect x="409.0" y="704" width="21" height="20" fill="#b890d8" fill-opacity="0.35" stroke="#b28fd2" stroke-opacity="0.85" stroke-width="2.8"/>
<rect x="438.5" y="828.5" width="21" height="20" fill="#b890d8" fill-opacity="0.35" stroke="#b28fd2" stroke-opacity="0.85" stroke-width="2.8"/>
<rect x="469.7" y="942.8" width="21" height="20" fill="#b890d8" fill-opacity="0.35" stroke="#b28fd2" stroke-opacity="0.85" stroke-width="2.8"/>
<rect x="512.3" y="1103.3" width="21" height="20" fill="#b890d8" fill-opacity="0.35" stroke="#b28fd2" stroke-opacity="0.85" stroke-width="2.8"/>
<rect x="515.5" y="1246" width="21" height="20" fill="#b890d8" fill-opacity="0.35" stroke="#b28fd2" stroke-opacity="0.85" stroke-width="2.8"/>
<rect x="516.5" y="1306" width="21" height="20" fill="#b890d8" fill-opacity="0.35" stroke="#b28fd2" stroke-opacity="0.85" stroke-width="2.8"/>
<rect x="540.7" y="1416.6" width="21" height="20" fill="#b890d8" fill-opacity="0.35" stroke="#b28fd2" stroke-opacity="0.85" stroke-width="2.8"/>
<text x="713.5" y="100.8" text-anchor="middle" class="xm">x</text>
<text x="714.8" y="125.4" text-anchor="middle" class="xm">x</text>
<text x="710.5" y="143.2" text-anchor="middle" class="xm">x</text>
<text x="705.5" y="163.5" text-anchor="middle" class="xm">x</text>
<text x="704.3" y="178.2" text-anchor="middle" class="xm">x</text>
<text x="704.3" y="196" text-anchor="middle" class="xm">x</text>
<text x="702.5" y="209.5" text-anchor="middle" class="xm">x</text>
<text x="716.6" y="247.9" text-anchor="middle" class="xm">x</text>
<text x="726.5" y="265.4" text-anchor="middle" class="xm">x</text>
<text x="732.4" y="280.4" text-anchor="middle" class="xm">x</text>
<text x="728.2" y="294.2" text-anchor="middle" class="xm">x</text>
<text x="720.6" y="307.3" text-anchor="middle" class="xm">x</text>
<text x="705.9" y="315.8" text-anchor="middle" class="xm">x</text>
<text x="699.3" y="330.9" text-anchor="middle" class="xm">x</text>
<text x="699.3" y="344.6" text-anchor="middle" class="xm">x</text>
<text x="699.3" y="359.1" text-anchor="middle" class="xm">x</text>
<text x="685.8" y="364.3" text-anchor="middle" class="xm">x</text>
<text x="669.7" y="380.3" text-anchor="middle" class="xm">x</text>
<text x="656.4" y="394.1" text-anchor="middle" class="xm">x</text>
<text x="642.2" y="400.6" text-anchor="middle" class="xm">x</text>
<text x="625.8" y="400.6" text-anchor="middle" class="xm">x</text>
<text x="619.3" y="409.1" text-anchor="middle" class="xm">x</text>
<text x="612.7" y="430.8" text-anchor="middle" class="xm">x</text>
<text x="608.2" y="443.2" text-anchor="middle" class="xm">x</text>
<text x="604.2" y="454.3" text-anchor="middle" class="xm">x</text>
<text x="596.4" y="488.4" text-anchor="middle" class="xm">x</text>
<text x="596.4" y="498.9" text-anchor="middle" class="xm">x</text>
<text x="595.8" y="511.9" text-anchor="middle" class="xm">x</text>
<text x="595.8" y="524.4" text-anchor="middle" class="xm">x</text>
<text x="595.8" y="535.6" text-anchor="middle" class="xm">x</text>
<text x="595.8" y="544.1" text-anchor="middle" class="xm">x</text>
<text x="595.8" y="555.2" text-anchor="middle" class="xm">x</text>
<text x="595.8" y="580.1" text-anchor="middle" class="xm">x</text>
<text x="595.8" y="594.6" text-anchor="middle" class="xm">x</text>
<text x="593.9" y="612.9" text-anchor="middle" class="xm">x</text>
<text x="588.6" y="626.6" text-anchor="middle" class="xm">x</text>
<text x="569.6" y="633.2" text-anchor="middle" class="xm">x</text>
<text x="547.3" y="643" text-anchor="middle" class="xm">x</text>
<text x="530.3" y="648.2" text-anchor="middle" class="xm">x</text>
<text x="515.2" y="652.8" text-anchor="middle" class="xm">x</text>
<text x="515.4" y="684.1" text-anchor="middle" class="xm">x</text>
<text x="525.8" y="709.6" text-anchor="middle" class="xm">x</text>
<text x="525.8" y="730.6" text-anchor="middle" class="xm">x</text>
<text x="529.8" y="747.6" text-anchor="middle" class="xm">x</text>
<text x="541.6" y="773.8" text-anchor="middle" class="xm">x</text>
<text x="536.5" y="839.6" text-anchor="middle" class="xm">x</text>
<text x="554.2" y="852.2" text-anchor="middle" class="xm">x</text>
<text x="574.9" y="859.5" text-anchor="middle" class="xm">x</text>
<text x="588.9" y="866.9" text-anchor="middle" class="xm">x</text>
<text x="602.9" y="874.3" text-anchor="middle" class="xm">x</text>
<text x="619.1" y="879.4" text-anchor="middle" class="xm">x</text>
<text x="652.3" y="897.1" text-anchor="middle" class="xm">x</text>
<text x="649.3" y="911.9" text-anchor="middle" class="xm">x</text>
<text x="651.5" y="921.4" text-anchor="middle" class="xm">x</text>
<text x="651.5" y="935.5" text-anchor="middle" class="xm">x</text>
<text x="651.5" y="953.1" text-anchor="middle" class="xm">x</text>
<text x="657.8" y="967.4" text-anchor="middle" class="xm">x</text>
<text x="666" y="982.1" text-anchor="middle" class="xm">x</text>
<text x="662.7" y="998.5" text-anchor="middle" class="xm">x</text>
<text x="654.5" y="1009.1" text-anchor="middle" class="xm">x</text>
<text x="646.3" y="1017.3" text-anchor="middle" class="xm">x</text>
<text x="642.2" y="1028" text-anchor="middle" class="xm">x</text>
<text x="620.9" y="1068.1" text-anchor="middle" class="xm">x</text>
<text x="645.5" y="1070.6" text-anchor="middle" class="xm">x</text>
<text x="624.2" y="1095.1" text-anchor="middle" class="xm">x</text>
<text x="647.1" y="1103.3" text-anchor="middle" class="xm">x</text>
<text x="601.3" y="1102.5" text-anchor="middle" class="xm">x</text>
<text x="583.2" y="1111.5" text-anchor="middle" class="xm">x</text>
<text x="573.4" y="1122.1" text-anchor="middle" class="xm">x</text>
<text x="647.1" y="1127.1" text-anchor="middle" class="xm">x</text>
<text x="576.7" y="1136.9" text-anchor="middle" class="xm">x</text>
<text x="630.2" y="1152.3" text-anchor="middle" class="xm">x</text>
<text x="623.3" y="1170.4" text-anchor="middle" class="xm">x</text>
<text x="618.2" y="1190.1" text-anchor="middle" class="xm">x</text>
<text x="572" y="1174.7" text-anchor="middle" class="xm">x</text>
<text x="555.6" y="1191.9" text-anchor="middle" class="xm">x</text>
<text x="534.3" y="1205" text-anchor="middle" class="xm">x</text>
<text x="536.8" y="1229.6" text-anchor="middle" class="xm">x</text>
<text x="536.8" y="1241.8" text-anchor="middle" class="xm">x</text>
<text x="536.7" y="1291.7" text-anchor="middle" class="xm">x</text>
<text x="536.7" y="1335.2" text-anchor="middle" class="xm">x</text>
<text x="536.7" y="1346.6" text-anchor="middle" class="xm">x</text>
<text x="536.7" y="1357.3" text-anchor="middle" class="xm">x</text>
<text x="536.7" y="1367.1" text-anchor="middle" class="xm">x</text>
<text x="541.6" y="1377.7" text-anchor="middle" class="xm">x</text>
<text x="545.7" y="1389.2" text-anchor="middle" class="xm">x</text>
<text x="550.6" y="1402.3" text-anchor="middle" class="xm">x</text>
<text x="554.7" y="1413.8" text-anchor="middle" class="xm">x</text>
<text x="636.6" y="1514" text-anchor="middle" class="xm">x</text>
<rect x="510" y="873.6" width="67.8" height="24.3" fill="#b0b0b0" fill-opacity="0.68"/><text x="511.5" y="889.1" font-size="13.5" font-weight="bold" font-style="italic" fill="#111" textLength="60.4" lengthAdjust="spacingAndGlyphs">Bail biner</text>
<rect x="255.2" y="953.5" width="78.2" height="38.3" fill="#b0b0b0" fill-opacity="0.68"/><text x="260.1" y="969.7" font-size="13.5" font-weight="bold" font-style="italic" fill="#111" textLength="59" lengthAdjust="spacingAndGlyphs">Switch to</text><text x="260.1" y="985.5" font-size="13.5" font-weight="bold" font-style="italic" fill="#111" textLength="68" lengthAdjust="spacingAndGlyphs">Blue Moon</text>
<rect x="575.9" y="967" width="72.9" height="38.5" fill="#b0b0b0" fill-opacity="0.68"/><text x="580.8" y="982.9" font-size="13.5" font-weight="bold" font-style="italic" fill="#111" textLength="31.1" lengthAdjust="spacingAndGlyphs">Rock</text><text x="580.8" y="998.1" font-size="13.5" font-weight="bold" font-style="italic" fill="#111" textLength="63.9" lengthAdjust="spacingAndGlyphs">breaks off</text>
<rect x="540.2" y="1031.7" width="59.4" height="37.7" fill="#b0b0b0" fill-opacity="0.68"/><text x="545.1" y="1046.5" font-size="13.5" font-weight="bold" font-style="italic" fill="#111" textLength="50.1" lengthAdjust="spacingAndGlyphs">50m 6er</text><text x="545.1" y="1062" font-size="13.5" font-weight="bold" font-style="italic" fill="#111" textLength="41.4" lengthAdjust="spacingAndGlyphs">4 bolts</text>
<rect x="393.6" y="1101.7" width="117.9" height="24.5" fill="#b0b0b0" fill-opacity="0.68"/><text x="397.2" y="1117.6" font-size="13.5" font-weight="bold" font-style="italic" fill="#111" textLength="108.2" lengthAdjust="spacingAndGlyphs">Stand after simul</text>
<text x="425.5" y="1004.2" font-size="17.3" font-weight="bold" fill="#66686c" textLength="142" lengthAdjust="spacingAndGlyphs">Sommernachts-</text>
<text x="425.5" y="1023.2" font-size="17.3" font-weight="bold" fill="#66686c" textLength="106" lengthAdjust="spacingAndGlyphs">traum (7/7+)</text>
<text x="322.8" y="1148.3" font-size="16.6" font-weight="bold" fill="#6a6a6a" textLength="48.6" lengthAdjust="spacingAndGlyphs">Hofer</text>
<text x="286.4" y="1261.7" font-size="16.6" font-weight="bold" fill="#6a6a6a" textLength="55.3" lengthAdjust="spacingAndGlyphs">REINL</text>
<text x="677.5" y="1495.1" font-size="17" font-weight="bold" fill="#6a6a6a" textLength="55" lengthAdjust="spacingAndGlyphs">REINL</text>
<text x="684.4" y="1160.7" font-size="16.8" font-weight="bold" fill="#6e6e6e" textLength="62.8" lengthAdjust="spacingAndGlyphs">Projekt</text>
<text stroke="#6e6e6e" stroke-width="0.5" x="674" y="1173.6" font-size="14.4" fill="#6e6e6e" textLength="93.8" lengthAdjust="spacingAndGlyphs">(goldene BH)</text>
<text x="662.7" y="1089.9" font-size="18.5" font-weight="bold" fill="#2c4ea0">5</text>
<text x="653.4" y="1145.3" font-size="19" font-weight="bold" fill="#2c4ea0" textLength="35.3" lengthAdjust="spacingAndGlyphs">6-/6</text>
<text x="639.7" y="1174.5" font-size="18.5" font-weight="bold" fill="#2c4ea0">5</text>
<text x="412.3" y="1205" font-size="17.5" font-style="italic" fill="#2a2a2a" textLength="68.6" lengthAdjust="spacingAndGlyphs">Progress</text>
<text x="412.3" y="1225.4" font-size="17.5" font-style="italic" fill="#2a2a2a" textLength="57.3" lengthAdjust="spacingAndGlyphs">capture</text>
<text x="402.7" y="1328.8" font-size="17.5" font-style="italic" fill="#2a2a2a" textLength="70" lengthAdjust="spacingAndGlyphs">Progress</text>
<text x="402.7" y="1350.3" font-size="17.5" font-style="italic" fill="#2a2a2a" textLength="57.3" lengthAdjust="spacingAndGlyphs">capture</text>
<text x="442.8" y="1465.8" font-size="21" font-weight="bold" fill="#111" textLength="91.2" lengthAdjust="spacingAndGlyphs">Seeblick</text>
<text x="575" y="1476.2" font-size="18" font-weight="bold" fill="#6a6a6a">3</text>
<text x="648" y="1574.3" font-size="18" font-weight="bold" fill="#6a6a6a" textLength="17.7" lengthAdjust="spacingAndGlyphs">3-</text>
<text x="776.7" y="1573" font-size="14.5" font-weight="bold" fill="#111" textLength="40.3" lengthAdjust="spacingAndGlyphs">Höhle</text>
<text stroke="#111" stroke-width="0.6" x="639" y="84.8" font-size="17" fill="#111" textLength="46.7" lengthAdjust="spacingAndGlyphs">Wand-</text>
<text stroke="#111" stroke-width="0.6" x="639" y="101.2" font-size="17" fill="#111" textLength="39.3" lengthAdjust="spacingAndGlyphs">buch</text>
<text x="372" y="668.3" font-size="17" font-style="italic" fill="#111">F</text>
<text x="372.6" y="690" font-size="13" font-style="italic" fill="#111">cε</text>
<text x="441" y="666" font-size="10" font-weight="bold" fill="#555">:</text>
<path d="M594 1482.9 L600 1474.9 Q603 1469.9 606 1473.9 Q607 1477.9 599 1478.9" fill="none" stroke="#111" stroke-width="1.6"/>
<path d="M694 1555 L700 1547 Q703 1542 706 1546 Q707 1550 699 1551" fill="none" stroke="#111" stroke-width="1.6"/>
<text x="390.5" y="666.5" font-size="21" font-weight="bold" fill="#1a1a1a" textLength="17.5" lengthAdjust="spacingAndGlyphs" style="font-family:Liberation Serif">VI</text>
<text x="424.5" y="771.5" font-size="16.5" font-weight="bold" fill="#1a1a1a" textLength="22.5" lengthAdjust="spacingAndGlyphs" style="font-family:Liberation Serif">V+</text>
<text x="445.3" y="896.5" font-size="20.5" font-weight="bold" fill="#1a1a1a" textLength="14.5" lengthAdjust="spacingAndGlyphs" style="font-family:Liberation Serif">VI</text>
<g filter="url(#shadow)"><path d="M446.6 671.3 L460.6 668" fill="none" stroke="#f09a30" stroke-width="4.2" stroke-linecap="butt" stroke-linejoin="round"/><polygon points="481.3,663.4 458.3,657.5 463,678.5" fill="#f09a30"/></g>
<g filter="url(#shadow)"><path d="M486 1209.6 L499.6 1206.3" fill="none" stroke="#f09a30" stroke-width="4.2" stroke-linecap="butt" stroke-linejoin="round"/><polygon points="520.4,1201.4 497.5,1196.5 501.6,1216.1" fill="#f09a30"/></g>
<g filter="url(#shadow)"><path d="M478.8 1332.9 L492 1329" fill="none" stroke="#f09a30" stroke-width="4.2" stroke-linecap="butt" stroke-linejoin="round"/><polygon points="511.6,1324.8 490,1319 494,1339" fill="#f09a30"/></g>
<path d="M710.2 67.6 C712.5 63.5 717.8 50 723.8 43 C729.8 36 741.2 29.5 745.9 25.8 C750.6 22.1 751 21.8 752 21" fill="none" stroke="#f2b33d" stroke-width="4" stroke-dasharray="4 4" stroke-linecap="butt" stroke-linejoin="round"/>
<polygon points="768,10.3 748.3,14.7 757,26.5" fill="#f2b33d"/>
<g transform="translate(658.5,28.7) rotate(0) scale(1.1)"><path d="M0.2 -8.2 A4.6 4.6 0 1 1 3.8 -2 A3.6 3.6 0 1 0 0.2 -8.2 Z" fill="#2f9540"/><path d="M-7.2 -4.4 A5.2 5.2 0 1 1 0.1 -0.2 A4.2 4.2 0 1 0 -7.2 -4.4 Z" fill="#b9d26a"/><path d="M0 -0.9 A4.6 4.6 0 1 1 -2.4 5.9 A3.6 3.6 0 1 0 0 -0.9 Z" fill="#2f9540"/><path d="M4.2 -1.5 A5.0 5.0 0 1 1 2.8 6.4 A4.0 4.0 0 1 0 4.2 -1.5 Z" fill="#b9d26a"/><path d="M-9.7 8.8 A5.2 5.2 0 1 1 -1.4 10.3 A4.2 4.2 0 1 0 -9.7 8.8 Z" fill="#b9d26a"/></g>
<g transform="translate(685,42.7) rotate(0) scale(1.1)"><path d="M0.2 -8.2 A4.6 4.6 0 1 1 3.8 -2 A3.6 3.6 0 1 0 0.2 -8.2 Z" fill="#2f9540"/><path d="M-7.2 -4.4 A5.2 5.2 0 1 1 0.1 -0.2 A4.2 4.2 0 1 0 -7.2 -4.4 Z" fill="#b9d26a"/><path d="M0 -0.9 A4.6 4.6 0 1 1 -2.4 5.9 A3.6 3.6 0 1 0 0 -0.9 Z" fill="#2f9540"/><path d="M4.2 -1.5 A5.0 5.0 0 1 1 2.8 6.4 A4.0 4.0 0 1 0 4.2 -1.5 Z" fill="#b9d26a"/><path d="M-9.7 8.8 A5.2 5.2 0 1 1 -1.4 10.3 A4.2 4.2 0 1 0 -9.7 8.8 Z" fill="#b9d26a"/></g>
<g transform="translate(731,66) rotate(0) scale(1.1)"><path d="M0.2 -8.2 A4.6 4.6 0 1 1 3.8 -2 A3.6 3.6 0 1 0 0.2 -8.2 Z" fill="#2f9540"/><path d="M-7.2 -4.4 A5.2 5.2 0 1 1 0.1 -0.2 A4.2 4.2 0 1 0 -7.2 -4.4 Z" fill="#b9d26a"/><path d="M0 -0.9 A4.6 4.6 0 1 1 -2.4 5.9 A3.6 3.6 0 1 0 0 -0.9 Z" fill="#2f9540"/><path d="M4.2 -1.5 A5.0 5.0 0 1 1 2.8 6.4 A4.0 4.0 0 1 0 4.2 -1.5 Z" fill="#b9d26a"/><path d="M-9.7 8.8 A5.2 5.2 0 1 1 -1.4 10.3 A4.2 4.2 0 1 0 -9.7 8.8 Z" fill="#b9d26a"/></g>
<g transform="translate(562,380) rotate(0) scale(1.045)"><path d="M0.2 -8.2 A4.6 4.6 0 1 1 3.8 -2 A3.6 3.6 0 1 0 0.2 -8.2 Z" fill="#2f9540"/><path d="M-7.2 -4.4 A5.2 5.2 0 1 1 0.1 -0.2 A4.2 4.2 0 1 0 -7.2 -4.4 Z" fill="#b9d26a"/><path d="M0 -0.9 A4.6 4.6 0 1 1 -2.4 5.9 A3.6 3.6 0 1 0 0 -0.9 Z" fill="#2f9540"/><path d="M4.2 -1.5 A5.0 5.0 0 1 1 2.8 6.4 A4.0 4.0 0 1 0 4.2 -1.5 Z" fill="#b9d26a"/><path d="M-9.7 8.8 A5.2 5.2 0 1 1 -1.4 10.3 A4.2 4.2 0 1 0 -9.7 8.8 Z" fill="#b9d26a"/></g>
<g transform="translate(575,371) rotate(0) scale(1.045)"><path d="M0.2 -8.2 A4.6 4.6 0 1 1 3.8 -2 A3.6 3.6 0 1 0 0.2 -8.2 Z" fill="#2f9540"/><path d="M-7.2 -4.4 A5.2 5.2 0 1 1 0.1 -0.2 A4.2 4.2 0 1 0 -7.2 -4.4 Z" fill="#b9d26a"/><path d="M0 -0.9 A4.6 4.6 0 1 1 -2.4 5.9 A3.6 3.6 0 1 0 0 -0.9 Z" fill="#2f9540"/><path d="M4.2 -1.5 A5.0 5.0 0 1 1 2.8 6.4 A4.0 4.0 0 1 0 4.2 -1.5 Z" fill="#b9d26a"/><path d="M-9.7 8.8 A5.2 5.2 0 1 1 -1.4 10.3 A4.2 4.2 0 1 0 -9.7 8.8 Z" fill="#b9d26a"/></g>
<g transform="translate(587,362) rotate(0) scale(1.045)"><path d="M0.2 -8.2 A4.6 4.6 0 1 1 3.8 -2 A3.6 3.6 0 1 0 0.2 -8.2 Z" fill="#2f9540"/><path d="M-7.2 -4.4 A5.2 5.2 0 1 1 0.1 -0.2 A4.2 4.2 0 1 0 -7.2 -4.4 Z" fill="#b9d26a"/><path d="M0 -0.9 A4.6 4.6 0 1 1 -2.4 5.9 A3.6 3.6 0 1 0 0 -0.9 Z" fill="#2f9540"/><path d="M4.2 -1.5 A5.0 5.0 0 1 1 2.8 6.4 A4.0 4.0 0 1 0 4.2 -1.5 Z" fill="#b9d26a"/><path d="M-9.7 8.8 A5.2 5.2 0 1 1 -1.4 10.3 A4.2 4.2 0 1 0 -9.7 8.8 Z" fill="#b9d26a"/></g>
<g transform="translate(596,376) rotate(0) scale(1.045)"><path d="M0.2 -8.2 A4.6 4.6 0 1 1 3.8 -2 A3.6 3.6 0 1 0 0.2 -8.2 Z" fill="#2f9540"/><path d="M-7.2 -4.4 A5.2 5.2 0 1 1 0.1 -0.2 A4.2 4.2 0 1 0 -7.2 -4.4 Z" fill="#b9d26a"/><path d="M0 -0.9 A4.6 4.6 0 1 1 -2.4 5.9 A3.6 3.6 0 1 0 0 -0.9 Z" fill="#2f9540"/><path d="M4.2 -1.5 A5.0 5.0 0 1 1 2.8 6.4 A4.0 4.0 0 1 0 4.2 -1.5 Z" fill="#b9d26a"/><path d="M-9.7 8.8 A5.2 5.2 0 1 1 -1.4 10.3 A4.2 4.2 0 1 0 -9.7 8.8 Z" fill="#b9d26a"/></g>
<g transform="translate(608,366) rotate(0) scale(1.045)"><path d="M0.2 -8.2 A4.6 4.6 0 1 1 3.8 -2 A3.6 3.6 0 1 0 0.2 -8.2 Z" fill="#2f9540"/><path d="M-7.2 -4.4 A5.2 5.2 0 1 1 0.1 -0.2 A4.2 4.2 0 1 0 -7.2 -4.4 Z" fill="#b9d26a"/><path d="M0 -0.9 A4.6 4.6 0 1 1 -2.4 5.9 A3.6 3.6 0 1 0 0 -0.9 Z" fill="#2f9540"/><path d="M4.2 -1.5 A5.0 5.0 0 1 1 2.8 6.4 A4.0 4.0 0 1 0 4.2 -1.5 Z" fill="#b9d26a"/><path d="M-9.7 8.8 A5.2 5.2 0 1 1 -1.4 10.3 A4.2 4.2 0 1 0 -9.7 8.8 Z" fill="#b9d26a"/></g>
<g transform="translate(619,372) rotate(0) scale(1.045)"><path d="M0.2 -8.2 A4.6 4.6 0 1 1 3.8 -2 A3.6 3.6 0 1 0 0.2 -8.2 Z" fill="#2f9540"/><path d="M-7.2 -4.4 A5.2 5.2 0 1 1 0.1 -0.2 A4.2 4.2 0 1 0 -7.2 -4.4 Z" fill="#b9d26a"/><path d="M0 -0.9 A4.6 4.6 0 1 1 -2.4 5.9 A3.6 3.6 0 1 0 0 -0.9 Z" fill="#2f9540"/><path d="M4.2 -1.5 A5.0 5.0 0 1 1 2.8 6.4 A4.0 4.0 0 1 0 4.2 -1.5 Z" fill="#b9d26a"/><path d="M-9.7 8.8 A5.2 5.2 0 1 1 -1.4 10.3 A4.2 4.2 0 1 0 -9.7 8.8 Z" fill="#b9d26a"/></g>
<g transform="translate(628,358) rotate(0) scale(1.045)"><path d="M0.2 -8.2 A4.6 4.6 0 1 1 3.8 -2 A3.6 3.6 0 1 0 0.2 -8.2 Z" fill="#2f9540"/><path d="M-7.2 -4.4 A5.2 5.2 0 1 1 0.1 -0.2 A4.2 4.2 0 1 0 -7.2 -4.4 Z" fill="#b9d26a"/><path d="M0 -0.9 A4.6 4.6 0 1 1 -2.4 5.9 A3.6 3.6 0 1 0 0 -0.9 Z" fill="#2f9540"/><path d="M4.2 -1.5 A5.0 5.0 0 1 1 2.8 6.4 A4.0 4.0 0 1 0 4.2 -1.5 Z" fill="#b9d26a"/><path d="M-9.7 8.8 A5.2 5.2 0 1 1 -1.4 10.3 A4.2 4.2 0 1 0 -9.7 8.8 Z" fill="#b9d26a"/></g>
<g transform="translate(595.5,822.8) rotate(0) scale(1.1)"><path d="M0.2 -8.2 A4.6 4.6 0 1 1 3.8 -2 A3.6 3.6 0 1 0 0.2 -8.2 Z" fill="#2f9540"/><path d="M-7.2 -4.4 A5.2 5.2 0 1 1 0.1 -0.2 A4.2 4.2 0 1 0 -7.2 -4.4 Z" fill="#b9d26a"/><path d="M0 -0.9 A4.6 4.6 0 1 1 -2.4 5.9 A3.6 3.6 0 1 0 0 -0.9 Z" fill="#2f9540"/><path d="M4.2 -1.5 A5.0 5.0 0 1 1 2.8 6.4 A4.0 4.0 0 1 0 4.2 -1.5 Z" fill="#b9d26a"/><path d="M-9.7 8.8 A5.2 5.2 0 1 1 -1.4 10.3 A4.2 4.2 0 1 0 -9.7 8.8 Z" fill="#b9d26a"/></g>
<g transform="translate(658.9,864) rotate(0) scale(1.1)"><path d="M0.2 -8.2 A4.6 4.6 0 1 1 3.8 -2 A3.6 3.6 0 1 0 0.2 -8.2 Z" fill="#2f9540"/><path d="M-7.2 -4.4 A5.2 5.2 0 1 1 0.1 -0.2 A4.2 4.2 0 1 0 -7.2 -4.4 Z" fill="#b9d26a"/><path d="M0 -0.9 A4.6 4.6 0 1 1 -2.4 5.9 A3.6 3.6 0 1 0 0 -0.9 Z" fill="#2f9540"/><path d="M4.2 -1.5 A5.0 5.0 0 1 1 2.8 6.4 A4.0 4.0 0 1 0 4.2 -1.5 Z" fill="#b9d26a"/><path d="M-9.7 8.8 A5.2 5.2 0 1 1 -1.4 10.3 A4.2 4.2 0 1 0 -9.7 8.8 Z" fill="#b9d26a"/></g>
<g transform="translate(614.7,939.2) rotate(0) scale(1.1)"><path d="M0.2 -8.2 A4.6 4.6 0 1 1 3.8 -2 A3.6 3.6 0 1 0 0.2 -8.2 Z" fill="#2f9540"/><path d="M-7.2 -4.4 A5.2 5.2 0 1 1 0.1 -0.2 A4.2 4.2 0 1 0 -7.2 -4.4 Z" fill="#b9d26a"/><path d="M0 -0.9 A4.6 4.6 0 1 1 -2.4 5.9 A3.6 3.6 0 1 0 0 -0.9 Z" fill="#2f9540"/><path d="M4.2 -1.5 A5.0 5.0 0 1 1 2.8 6.4 A4.0 4.0 0 1 0 4.2 -1.5 Z" fill="#b9d26a"/><path d="M-9.7 8.8 A5.2 5.2 0 1 1 -1.4 10.3 A4.2 4.2 0 1 0 -9.7 8.8 Z" fill="#b9d26a"/></g>
<g transform="translate(558.7,1079.2) rotate(0) scale(1.1)"><path d="M0.2 -8.2 A4.6 4.6 0 1 1 3.8 -2 A3.6 3.6 0 1 0 0.2 -8.2 Z" fill="#2f9540"/><path d="M-7.2 -4.4 A5.2 5.2 0 1 1 0.1 -0.2 A4.2 4.2 0 1 0 -7.2 -4.4 Z" fill="#b9d26a"/><path d="M0 -0.9 A4.6 4.6 0 1 1 -2.4 5.9 A3.6 3.6 0 1 0 0 -0.9 Z" fill="#2f9540"/><path d="M4.2 -1.5 A5.0 5.0 0 1 1 2.8 6.4 A4.0 4.0 0 1 0 4.2 -1.5 Z" fill="#b9d26a"/><path d="M-9.7 8.8 A5.2 5.2 0 1 1 -1.4 10.3 A4.2 4.2 0 1 0 -9.7 8.8 Z" fill="#b9d26a"/></g>
<g transform="translate(501,1083) rotate(0) scale(0.935)"><path d="M0.2 -8.2 A4.6 4.6 0 1 1 3.8 -2 A3.6 3.6 0 1 0 0.2 -8.2 Z" fill="#2f9540"/><path d="M-7.2 -4.4 A5.2 5.2 0 1 1 0.1 -0.2 A4.2 4.2 0 1 0 -7.2 -4.4 Z" fill="#b9d26a"/><path d="M0 -0.9 A4.6 4.6 0 1 1 -2.4 5.9 A3.6 3.6 0 1 0 0 -0.9 Z" fill="#2f9540"/><path d="M4.2 -1.5 A5.0 5.0 0 1 1 2.8 6.4 A4.0 4.0 0 1 0 4.2 -1.5 Z" fill="#b9d26a"/><path d="M-9.7 8.8 A5.2 5.2 0 1 1 -1.4 10.3 A4.2 4.2 0 1 0 -9.7 8.8 Z" fill="#b9d26a"/></g>
<g transform="translate(613,1244.2) rotate(0) scale(0.935)"><path d="M0.2 -8.2 A4.6 4.6 0 1 1 3.8 -2 A3.6 3.6 0 1 0 0.2 -8.2 Z" fill="#2f9540"/><path d="M-7.2 -4.4 A5.2 5.2 0 1 1 0.1 -0.2 A4.2 4.2 0 1 0 -7.2 -4.4 Z" fill="#b9d26a"/><path d="M0 -0.9 A4.6 4.6 0 1 1 -2.4 5.9 A3.6 3.6 0 1 0 0 -0.9 Z" fill="#2f9540"/><path d="M4.2 -1.5 A5.0 5.0 0 1 1 2.8 6.4 A4.0 4.0 0 1 0 4.2 -1.5 Z" fill="#b9d26a"/><path d="M-9.7 8.8 A5.2 5.2 0 1 1 -1.4 10.3 A4.2 4.2 0 1 0 -9.7 8.8 Z" fill="#b9d26a"/></g>
<g transform="translate(650.8,1270) rotate(0) scale(0.935)"><path d="M0.2 -8.2 A4.6 4.6 0 1 1 3.8 -2 A3.6 3.6 0 1 0 0.2 -8.2 Z" fill="#2f9540"/><path d="M-7.2 -4.4 A5.2 5.2 0 1 1 0.1 -0.2 A4.2 4.2 0 1 0 -7.2 -4.4 Z" fill="#b9d26a"/><path d="M0 -0.9 A4.6 4.6 0 1 1 -2.4 5.9 A3.6 3.6 0 1 0 0 -0.9 Z" fill="#2f9540"/><path d="M4.2 -1.5 A5.0 5.0 0 1 1 2.8 6.4 A4.0 4.0 0 1 0 4.2 -1.5 Z" fill="#b9d26a"/><path d="M-9.7 8.8 A5.2 5.2 0 1 1 -1.4 10.3 A4.2 4.2 0 1 0 -9.7 8.8 Z" fill="#b9d26a"/></g>
<g transform="translate(636,1330) rotate(0) scale(0.9900000000000001)"><path d="M0.2 -8.2 A4.6 4.6 0 1 1 3.8 -2 A3.6 3.6 0 1 0 0.2 -8.2 Z" fill="#2f9540"/><path d="M-7.2 -4.4 A5.2 5.2 0 1 1 0.1 -0.2 A4.2 4.2 0 1 0 -7.2 -4.4 Z" fill="#b9d26a"/><path d="M0 -0.9 A4.6 4.6 0 1 1 -2.4 5.9 A3.6 3.6 0 1 0 0 -0.9 Z" fill="#2f9540"/><path d="M4.2 -1.5 A5.0 5.0 0 1 1 2.8 6.4 A4.0 4.0 0 1 0 4.2 -1.5 Z" fill="#b9d26a"/><path d="M-9.7 8.8 A5.2 5.2 0 1 1 -1.4 10.3 A4.2 4.2 0 1 0 -9.7 8.8 Z" fill="#b9d26a"/></g>
<g>
<g transform="translate(1088.8,56.2) rotate(-147)"><path d="M-7.0 -0.5 Q-7.0 -2.6 -5.0 -2.8 L6.0 -3.6 Q7.8 -1 6.5 1.2 L-6.0 1.8 Z" fill="#e8622c"/><path d="M-6.0 1.6 L6.5 1 L6.0 3.2 L-5.5 3.2 Z" fill="#f1d43a"/></g>
<g transform="translate(1104.5,47) rotate(-114)"><path d="M-7.0 -0.5 Q-7.0 -2.6 -5.0 -2.8 L6.0 -3.6 Q7.8 -1 6.5 1.2 L-6.0 1.8 Z" fill="#e8622c"/><path d="M-6.0 1.6 L6.5 1 L6.0 3.2 L-5.5 3.2 Z" fill="#f1d43a"/></g>
<g transform="translate(1125.5,44.4) rotate(-74)"><path d="M-7.0 -0.5 Q-7.0 -2.6 -5.0 -2.8 L6.0 -3.6 Q7.8 -1 6.5 1.2 L-6.0 1.8 Z" fill="#e8622c"/><path d="M-6.0 1.6 L6.5 1 L6.0 3.2 L-5.5 3.2 Z" fill="#f1d43a"/></g>
<g transform="translate(1145.2,51) rotate(-40)"><path d="M-8.5 -0.5 Q-8.5 -2.6 -6.5 -2.8 L7.5 -3.6 Q9.3 -1 8.0 1.2 L-7.5 1.8 Z" fill="#e8622c"/><path d="M-7.5 1.6 L8.0 1 L7.5 3.2 L-7.0 3.2 Z" fill="#f1d43a"/></g>
<g transform="translate(1157,64) rotate(-15)"><path d="M-8.5 -0.5 Q-8.5 -2.6 -6.5 -2.8 L7.5 -3.6 Q9.3 -1 8.0 1.2 L-7.5 1.8 Z" fill="#e8622c"/><path d="M-7.5 1.6 L8.0 1 L7.5 3.2 L-7.0 3.2 Z" fill="#f1d43a"/></g>
<g transform="translate(1157,78.5) rotate(6)"><path d="M-8.5 -0.5 Q-8.5 -2.6 -6.5 -2.8 L7.5 -3.6 Q9.3 -1 8.0 1.2 L-7.5 1.8 Z" fill="#e8622c"/><path d="M-7.5 1.6 L8.0 1 L7.5 3.2 L-7.0 3.2 Z" fill="#f1d43a"/></g>
<g transform="translate(1146.5,90.3) rotate(28)"><path d="M-8.5 -0.5 Q-8.5 -2.6 -6.5 -2.8 L7.5 -3.6 Q9.3 -1 8.0 1.2 L-7.5 1.8 Z" fill="#e8622c"/><path d="M-7.5 1.6 L8.0 1 L7.5 3.2 L-7.0 3.2 Z" fill="#f1d43a"/></g>
<g transform="translate(1134.7,99.4) rotate(55)"><path d="M-7.0 -0.5 Q-7.0 -2.6 -5.0 -2.8 L6.0 -3.6 Q7.8 -1 6.5 1.2 L-6.0 1.8 Z" fill="#e8622c"/><path d="M-6.0 1.6 L6.5 1 L6.0 3.2 L-5.5 3.2 Z" fill="#f1d43a"/></g>
<g transform="translate(1119,100.8) rotate(86)"><path d="M-7.0 -0.5 Q-7.0 -2.6 -5.0 -2.8 L6.0 -3.6 Q7.8 -1 6.5 1.2 L-6.0 1.8 Z" fill="#e8622c"/><path d="M-6.0 1.6 L6.5 1 L6.0 3.2 L-5.5 3.2 Z" fill="#f1d43a"/></g>
<g transform="translate(1100.6,99.4) rotate(123)"><path d="M-7.0 -0.5 Q-7.0 -2.6 -5.0 -2.8 L6.0 -3.6 Q7.8 -1 6.5 1.2 L-6.0 1.8 Z" fill="#e8622c"/><path d="M-6.0 1.6 L6.5 1 L6.0 3.2 L-5.5 3.2 Z" fill="#f1d43a"/></g>
<g transform="translate(1088.8,92.9) rotate(147)"><path d="M-7.0 -0.5 Q-7.0 -2.6 -5.0 -2.8 L6.0 -3.6 Q7.8 -1 6.5 1.2 L-6.0 1.8 Z" fill="#e8622c"/><path d="M-6.0 1.6 L6.5 1 L6.0 3.2 L-5.5 3.2 Z" fill="#f1d43a"/></g>
<g transform="translate(1079.6,81.1) rotate(170)"><path d="M-7.0 -0.5 Q-7.0 -2.6 -5.0 -2.8 L6.0 -3.6 Q7.8 -1 6.5 1.2 L-6.0 1.8 Z" fill="#e8622c"/><path d="M-6.0 1.6 L6.5 1 L6.0 3.2 L-5.5 3.2 Z" fill="#f1d43a"/></g>
<g transform="translate(1081,69.3) rotate(-172)"><path d="M-7.0 -0.5 Q-7.0 -2.6 -5.0 -2.8 L6.0 -3.6 Q7.8 -1 6.5 1.2 L-6.0 1.8 Z" fill="#e8622c"/><path d="M-6.0 1.6 L6.5 1 L6.0 3.2 L-5.5 3.2 Z" fill="#f1d43a"/></g>
<ellipse cx="1117" cy="74.5" rx="22.5" ry="17.5" fill="#f3dc42" stroke="#e8612c" stroke-width="6"/>
<ellipse cx="1107.2" cy="69.3" rx="1.9" ry="2.6" fill="#e8612c"/><ellipse cx="1123.5" cy="65" rx="1.9" ry="2.8" transform="rotate(-20 1123.5 65)" fill="#e8612c"/>
<path d="M1108 78 Q1119 84 1130 76" fill="none" stroke="#e8612c" stroke-width="2.4"/>
</g>
<rect x="841.8" y="58.3" width="6.8" height="1405" fill="#fff" stroke="#000" stroke-width="1.6"/>
<rect x="841" y="82.3" width="8.4" height="145.3" fill="#000"/>
<rect x="841" y="354.5" width="8.4" height="108.0" fill="#000"/>
<rect x="841" y="557.5" width="8.4" height="109.5" fill="#000"/>
<rect x="841" y="799.5" width="8.4" height="87.5" fill="#000"/>
<rect x="841" y="1039" width="8.4" height="107.5" fill="#000"/>
<rect x="841" y="1256" width="8.4" height="72.6" fill="#000"/>
<rect x="841" y="1429" width="8.4" height="34.4" fill="#000"/>
<line x1="778" y1="83.4" x2="842" y2="83.4" stroke="#000" stroke-width="1.6"/>
<line x1="778" y1="226" x2="842" y2="226" stroke="#000" stroke-width="1.6"/>
<line x1="778" y1="355" x2="842" y2="355" stroke="#000" stroke-width="1.6"/>
<line x1="778" y1="461.5" x2="842" y2="461.5" stroke="#000" stroke-width="1.6"/>
<line x1="778" y1="558.4" x2="842" y2="558.4" stroke="#000" stroke-width="1.6"/>
<line x1="778" y1="666.7" x2="842" y2="666.7" stroke="#000" stroke-width="1.6"/>
<line x1="778" y1="800" x2="842" y2="800" stroke="#000" stroke-width="1.6"/>
<line x1="778" y1="885.3" x2="842" y2="885.3" stroke="#000" stroke-width="1.6"/>
<line x1="778" y1="1039.4" x2="842" y2="1039.4" stroke="#000" stroke-width="1.6"/>
<line x1="778" y1="1145.3" x2="842" y2="1145.3" stroke="#000" stroke-width="1.6"/>
<line x1="778" y1="1255.9" x2="842" y2="1255.9" stroke="#000" stroke-width="1.6"/>
<line x1="780" y1="1329.2" x2="842" y2="1329.2" stroke="#000" stroke-width="1.6"/>
<line x1="782" y1="1429.25" x2="842" y2="1429.25" stroke="#000" stroke-width="1.6"/>
<text x="750.1" y="222.9" class="bh" textLength="30.4" lengthAdjust="spacingAndGlyphs">7 BH</text>
<text x="794.3" y="221.4" class="mt" textLength="43" lengthAdjust="spacingAndGlyphs">20 m</text>
<text x="854" y="221.4" class="mt">12.</text>
<text x="886" y="220.4" class="st" textLength="69.8" lengthAdjust="spacingAndGlyphs">7. Stand</text>
<text x="750.1" y="351.3" class="bh" textLength="30.4" lengthAdjust="spacingAndGlyphs">9 BH</text>
<text x="794.3" y="349.8" class="mt" textLength="43" lengthAdjust="spacingAndGlyphs">30 m</text>
<text x="854" y="349.8" class="mt">11.</text>
<text x="886" y="348.8" class="st" textLength="69.8" lengthAdjust="spacingAndGlyphs">6. Stand</text>
<text x="750.1" y="458.1" class="bh" textLength="30.4" lengthAdjust="spacingAndGlyphs">8 BH</text>
<text x="794.3" y="456.6" class="mt" textLength="43" lengthAdjust="spacingAndGlyphs">25 m</text>
<text x="854" y="456.6" class="mt">10.</text>
<text x="886" y="455.6" class="st" textLength="69.8" lengthAdjust="spacingAndGlyphs">5. Stand</text>
<text x="750.1" y="554.6" class="bh" textLength="30.4" lengthAdjust="spacingAndGlyphs">7 BH</text>
<text x="794.3" y="553.1" class="mt" textLength="43" lengthAdjust="spacingAndGlyphs">25 m</text>
<text x="854" y="553.1" class="mt">9.</text>
<text x="886" y="552.1" class="st" textLength="69.8" lengthAdjust="spacingAndGlyphs">4. Stand</text>
<text x="750.1" y="663.7" class="bh" textLength="30.4" lengthAdjust="spacingAndGlyphs">8 BH</text>
<text x="794.3" y="662.2" class="mt" textLength="43" lengthAdjust="spacingAndGlyphs">45 m</text>
<text x="854" y="662.2" class="mt">8.</text>
<text x="750.1" y="796.1" class="bh" textLength="30.4" lengthAdjust="spacingAndGlyphs">5 BH</text>
<text x="794.3" y="794.6" class="mt" textLength="43" lengthAdjust="spacingAndGlyphs">40 m</text>
<text x="854" y="794.6" class="mt">7.</text>
<text x="750.1" y="881.5" class="bh" textLength="30.4" lengthAdjust="spacingAndGlyphs">6 BH</text>
<text x="794.3" y="880" class="mt" textLength="43" lengthAdjust="spacingAndGlyphs">40 m</text>
<text x="854" y="880" class="mt">6.</text>
<text x="886" y="879" class="st" textLength="69.8" lengthAdjust="spacingAndGlyphs">3. Stand</text>
<text x="745.2" y="1035.1" class="bh" textLength="35.3" lengthAdjust="spacingAndGlyphs">11 BH</text>
<text x="794.3" y="1033.6" class="mt" textLength="43" lengthAdjust="spacingAndGlyphs">50 m</text>
<text x="854" y="1033.6" class="mt">5.</text>
<text x="886" y="1032.6" class="st" textLength="69.8" lengthAdjust="spacingAndGlyphs">2. Stand</text>
<text x="750.1" y="1142.4" class="bh" textLength="30.4" lengthAdjust="spacingAndGlyphs">6 BH</text>
<text x="794.3" y="1140.9" class="mt" textLength="43" lengthAdjust="spacingAndGlyphs">40 m</text>
<text x="854" y="1140.9" class="mt">4.</text>
<text x="750.1" y="1252.7" class="bh" textLength="30.4" lengthAdjust="spacingAndGlyphs">5 BH</text>
<text x="794.3" y="1251.2" class="mt" textLength="43" lengthAdjust="spacingAndGlyphs">45 m</text>
<text x="854" y="1251.2" class="mt">3.</text>
<text x="886" y="1250.2" class="st" textLength="69.8" lengthAdjust="spacingAndGlyphs">1. Stand</text>
<text x="750.1" y="1324.4" class="bh" textLength="30.4" lengthAdjust="spacingAndGlyphs">1 BH</text>
<text x="794.3" y="1322.9" class="mt" textLength="43" lengthAdjust="spacingAndGlyphs">25 m</text>
<text x="854" y="1322.9" class="mt">2.</text>
<text x="750.1" y="1425.5" class="bh" textLength="30.4" lengthAdjust="spacingAndGlyphs">8 BH</text>
<text x="794.3" y="1424" class="mt" textLength="43" lengthAdjust="spacingAndGlyphs">45 m</text>
<text x="854" y="1424" class="mt">1.</text>
<text x="744" y="75.7" class="sb" textLength="91.5" lengthAdjust="spacingAndGlyphs">Seeblick</text>
<text x="886" y="73.9" class="st" textLength="69.8" lengthAdjust="spacingAndGlyphs">8. Stand</text>
<text x="791.5" y="172.7" class="gr">7</text>
<text x="791.5" y="307" class="gr">7</text>
<text x="791.5" y="418.8" class="gr">7 -</text>
<text x="791.5" y="514.1" class="gr">6 +</text>
<text x="791.5" y="633.6" class="gr">5 +</text>
<text x="791.5" y="743.4" class="gr">6 -</text>
<text x="791.5" y="847.1" class="gr">4 +</text>
<text x="791.5" y="964.9" class="gr">6+</text>
<text x="791.5" y="1006.9" class="gr">6</text>
<text x="791.5" y="1103.6" class="gr">4</text>
<text x="791.5" y="1184.1" class="gr">3</text>
<text x="791.5" y="1227" class="gr">6</text>
<text x="791.5" y="1301.2" class="gr">3</text>
<text x="791.5" y="1394.6" class="gr">6 -</text>
<text x="887" y="173" class="sl" textLength="71" lengthAdjust="spacingAndGlyphs">SL8 20m</text>
<text x="887" y="283" class="sl" textLength="71" lengthAdjust="spacingAndGlyphs">SL7 30m</text>
<text x="887" y="401.6" class="sl" textLength="71" lengthAdjust="spacingAndGlyphs">SL6 25m</text>
<text x="887" y="502.4" class="sl" textLength="71" lengthAdjust="spacingAndGlyphs">SL5 25m</text>
<text x="887" y="708.4" class="sl" textLength="81.5" lengthAdjust="spacingAndGlyphs">SL4 125m</text>
<text x="887" y="954.4" class="sl" textLength="71" lengthAdjust="spacingAndGlyphs">SL3 50m</text>
<text x="887" y="1144.4" class="sl" textLength="71" lengthAdjust="spacingAndGlyphs">SL2 85m</text>
<text x="887" y="1349.1" class="sl" textLength="71" lengthAdjust="spacingAndGlyphs">SL1 80m</text>
</svg></body></html>
